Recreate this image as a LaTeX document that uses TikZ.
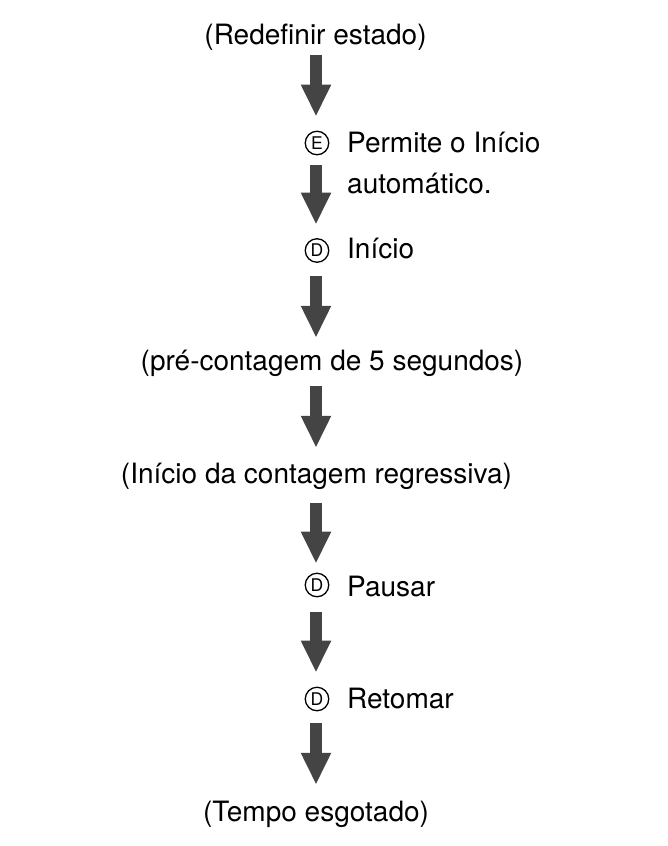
\documentclass[tikz,border=0pt]{standalone}
\usepackage{fontspec}
\setmainfont{TeX Gyre Heros}
\usetikzlibrary{arrows.meta}
\definecolor{arrowgray}{HTML}{444444}
\tikzset{
  lbl/.style={inner sep=0pt, text height=20pt, text depth=6pt, font=\fontsize{28}{34}\selectfont, anchor=base},
  lblw/.style={lbl, anchor=base west},
  circ/.style={circle, draw, line width=1.3pt, minimum size=23.5pt, inner sep=0pt, font=\fontsize{17.5}{17.5}\selectfont},
  bigarrow/.style={draw=arrowgray, line width=12pt, line cap=butt, -{Triangle[width=28pt, length=32pt]}}
}
\begin{document}
\begin{tikzpicture}[x=1pt,y=-1pt]
\useasboundingbox (0,0) rectangle (667,846);
\coordinate (ax) at (316,0);
\node[lbl] (redef) at (315.5,44) {(Redefinir estado)};
\node[circ] (cE) at (317,143) {E};
\node[lblw] (perm1) at (347,152) {Permite o Início};
\node[lblw] (perm2) at (347,193) {automático.};
\node[circ] (cD1) at (317,250.5) {D};
\node[lblw] (inicio) at (347,258) {Início};
\node[lbl] (pre) at (332,370) {(pré-contagem de 5 segundos)};
\node[lbl] (ini) at (316.5,483) {(Início da contagem regressiva)};
\node[circ] (cD2) at (317,585) {D};
\node[lblw] (pausar) at (347,596) {Pausar};
\node[circ] (cD3) at (317,699) {D};
\node[lblw] (retomar) at (347,708) {Retomar};
\node[lbl] (tempo) at (316,821) {(Tempo esgotado)};
\draw[bigarrow, shorten <=5pt, shorten >=14pt] (redef.south -| ax) -- (cE.north -| ax);
\draw[bigarrow, shorten <=10pt, shorten >=13.5pt] (cE.south -| ax) -- (cD1.north -| ax);
\draw[bigarrow, shorten <=13.5pt, shorten >=12pt] (cD1.south -| ax) -- (pre.north -| ax);
\draw[bigarrow, shorten <=10pt, shorten >=15pt] (pre.south -| ax) -- (ini.north -| ax);
\draw[bigarrow, shorten <=14pt, shorten >=9pt] (ini.south -| ax) -- (cD2.north -| ax);
\draw[bigarrow, shorten <=15pt, shorten >=14pt] (cD2.south -| ax) -- (cD3.north -| ax);
\draw[bigarrow, shorten <=12pt, shorten >=16pt] (cD3.south -| ax) -- (tempo.north -| ax);
\end{tikzpicture}
\end{document}
